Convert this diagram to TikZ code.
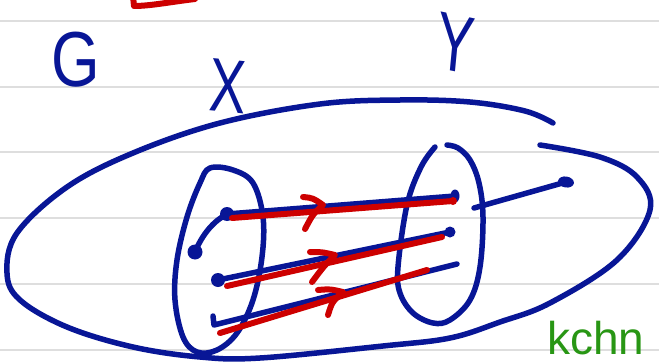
\documentclass[tikz,border=0pt]{standalone}
\usepackage{fontspec}
\setmainfont{Liberation Sans}
\usetikzlibrary{shapes.geometric}
\definecolor{pen}{RGB}{8,22,150}
\definecolor{redpen}{RGB}{205,0,0}
\definecolor{greenpen}{RGB}{40,150,20}
\definecolor{ruleclr}{RGB}{222,222,222}
\begin{document}
\begin{tikzpicture}[x=1pt,y=-1pt,
  bl/.style={draw=pen, line width=5.5pt, line cap=round, line join=round},
  rd/.style={draw=redpen, line width=6pt, line cap=round, line join=round},
  dotn/.style={circle, fill=pen, inner sep=0pt, minimum size=14pt},
  lbl/.style={text=pen, inner sep=0pt},
  ruleline/.style={draw=ruleclr, line width=2pt}]
\useasboundingbox (0,0) rectangle (659,364);
\clip (0,0) rectangle (659,364);
\fill[white] (0,0) rectangle (659,364);
\foreach \yy in {21,87,152,218,284,350} \draw[ruleline] (0,\yy) -- (659,\yy);

% red mark at top
\draw[rd] (133,-4) -- (134,6) .. controls (150,6) and (170,2) .. (195,-1);

% labels
\node[lbl, font=\fontsize{78}{78}\selectfont, xscale=0.8] (G) at (76,60) {G};
\node[lbl, font=\fontsize{76}{76}\selectfont, xscale=0.72, rotate=-4] (X) at (228,86) {X};
\node[lbl, font=\fontsize{82}{82}\selectfont, xscale=0.68, rotate=-8] (Y) at (456,43) {Y};

% big ellipse G
\draw[bl] plot[smooth, tension=0.6] coordinates {(553,123) (525,111) (470,102) (400,100) (320,104) (220,123) (133,153) (67,187) (17,233) (7,273) (20,300) (67,327) (133,347) (200,357) (260,358) (383,346) (450,338) (500,322) (550,303) (617,260) (650,210) (637,177) (600,157) (540,145)};

% set X
\draw[bl] plot[smooth cycle, tension=0.6] coordinates {(210,168) (233,170) (253,183) (263,217) (262,257) (253,300) (237,333) (217,350) (197,352) (183,337) (175,300) (177,260) (187,217) (200,183)};

% set Y
\draw[bl] plot[smooth, tension=0.6] coordinates {(435,147) (421,167) (407,205) (398,267) (400,293) (413,313) (433,323) (450,320) (470,300) (480,267) (483,217) (479,183) (470,160) (458,148) (447,145)};

% points
\node[dotn] (p1) at (227,214) {};
\node[dotn, minimum size=15pt] (p2) at (195,252) {};
\node[dotn] (p3) at (218,280) {};
\coordinate (p4) at (214,325);
\coordinate (p4t) at (213,316);
\node[dotn, ellipse, minimum width=9pt, minimum height=13pt] (q1) at (455,196) {};
\node[dotn, minimum size=11pt] (q2) at (450,232) {};
\coordinate (q3) at (457,264);
\coordinate (ys) at (474,208);
\node[dotn, ellipse, minimum width=16pt, minimum height=11pt, rotate=-10] (o) at (566,182) {};

% blue connectors
\draw[bl] (p1.center) .. controls (214,221) and (203,233) .. (p2.center);
\draw[bl] (p1.center) -- (q1.center);
\draw[bl] (p3.center) -- (q2.center);
\draw[bl] (p4t) -- (p4) -- (q3);
\draw[bl] (ys) -- (o.center);

% red connectors
\coordinate (r1s) at (232,218);
\coordinate (r1e) at (453,201);
\coordinate (r2s) at (227,286);
\coordinate (r2e) at (442,237);
\coordinate (r3s) at (220,333);
\coordinate (r3e) at (427,270);
\draw[rd] (r1s) -- (r1e);
\draw[rd] (r2s) -- (r2e);
\draw[rd] (r3s) -- (r3e);
\fill[redpen] (r1e) circle (4pt);

% red arrowheads
\draw[rd] (303,197) .. controls (313,198) .. (323,205) .. controls (313,214) .. (305,229);
\draw[rd] (310,252) .. controls (322,252) .. (335,255) .. controls (324,266) .. (312,282);
\draw[rd] (318,290) .. controls (330,289) .. (343,292) .. controls (332,302) .. (328,315);

% green text
\node[anchor=base west, inner sep=0pt, text=greenpen, font=\fontsize{46}{46}\selectfont] (gt) at (547,354) {kchn};
\end{tikzpicture}
\end{document}
